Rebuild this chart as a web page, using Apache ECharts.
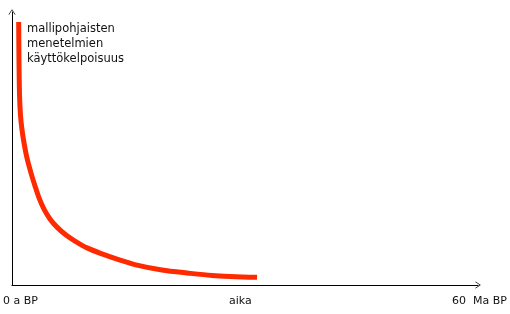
<!DOCTYPE html>
<html>
<head>
<meta charset="utf-8">
<script src="https://cdn.jsdelivr.net/npm/echarts@6/dist/echarts.min.js"></script>
<style>
  html, body { margin: 0; padding: 0; background: #fff; }
  #main { width: 510px; height: 314px; }
</style>
</head>
<body>
<div id="main"></div>
<script>
// time axis (Ma BP) and usefulness of model-based methods
var aika = [0.86, 0.90, 0.97, 1.09, 1.29, 1.55, 1.93, 2.45, 2.96, 3.48, 4.12, 4.89, 5.79, 6.95, 8.11, 9.66, 11.59, 13.52, 16.09, 19.31, 22.53, 25.75, 31.55];
var kayttokelpoisuus = [96.3, 82.4, 69.6, 62.3, 56.8, 52.0, 46.5, 41.0, 36.3, 31.9, 27.8, 24.2, 21.2, 18.3, 16.1, 13.6, 11.4, 9.5, 7.3, 5.5, 4.4, 3.5, 2.8];
var axisLabels = ['0 a BP', 'aika', '60  Ma BP'];
var curveTitle = ['mallipohjaisten', 'menetelmien', 'käyttökelpoisuus'];

var font = 'DejaVu Sans';
var chevronUp = 'path://M0,0 L6,9 L5,9.6 L0,2 L-5,9.6 L-6,9 Z';

var myChart = echarts.init(document.getElementById('main'));

var points = aika.map(function (x, i) { return [x, kayttokelpoisuus[i]]; });

myChart.setOption({
  animation: false,
  grid: { left: 12, right: 32, top: 12, bottom: 29, containLabel: false },
  xAxis: {
    type: 'value', min: 0, max: 60,
    axisLine: {
      show: true,
      lineStyle: { color: '#000', width: 1 },
      symbol: ['none', chevronUp],
      symbolSize: [7, 7],
      symbolOffset: [0, 0]
    },
    axisTick: { show: false },
    axisLabel: { show: false },
    splitLine: { show: false }
  },
  yAxis: {
    type: 'value', min: 0, max: 100,
    axisLine: {
      show: true,
      lineStyle: { color: '#000', width: 1 },
      symbol: ['none', chevronUp],
      symbolSize: [7, 7],
      symbolOffset: [0, 0]
    },
    axisTick: { show: false },
    axisLabel: { show: false },
    splitLine: { show: false }
  },
  series: [{
    type: 'line',
    data: points,
    smooth: 0.3,
    showSymbol: false,
    lineStyle: { color: '#ff2a00', width: 5, cap: 'butt', join: 'round' }
  }],
  graphic: [
    {
      type: 'text', left: 27, top: 22,
      style: { text: curveTitle.join('\n'), font: '11.5px ' + font, fill: '#111', lineHeight: 15 }
    },
    {
      type: 'text', left: 3, top: 296,
      style: { text: axisLabels[0], font: '11px ' + font, fill: '#111' }
    },
    {
      type: 'text', left: 229, top: 296,
      style: { text: axisLabels[1], font: '11px ' + font, fill: '#111' }
    },
    {
      type: 'text', left: 452, top: 296,
      style: { text: axisLabels[2], font: '11px ' + font, fill: '#111' }
    }
  ]
});
</script>
</body>
</html>
